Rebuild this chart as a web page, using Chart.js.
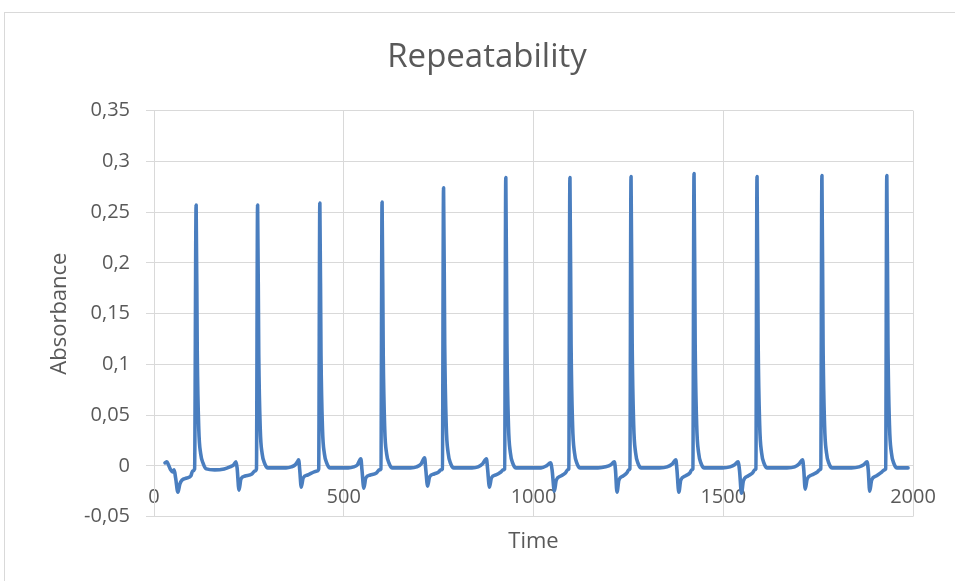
<!DOCTYPE html>
<html>
<head>
<meta charset="utf-8">
<title>Repeatability</title>
<script src="https://cdn.jsdelivr.net/npm/chart.js@4.4.0/dist/chart.umd.min.js"></script>
<style>
  html, body { margin: 0; padding: 0; background: #fff; overflow: hidden; }
  /* thin frame round the chart object */
  .frame { position: absolute; left: 4px; top: 12px; width: 1000px; height: 700px; border: 1px solid #d9d9d9; }
  #repeat-chart { position: absolute; left: 0; top: 0; }
</style>
</head>
<body>
<div class="frame"></div>
<canvas id="repeat-chart" width="974" height="581"></canvas>
<script>
// measured signal: time and absorbance, one row per injection peak
const time = [
  29, 34, 38, 44, 49, 53, 57, 63, 68, 74, 86, 97, 102, 107, 111,
  114, 118, 123, 130, 138, 160, 185, 200, 210, 216, 219, 224, 229, 240, 258, 266, 270, 273,
  276, 280, 285, 292, 300, 322, 348, 362, 372, 378, 381, 384, 388, 393, 405, 422, 430, 434, 437,
  440, 444, 449, 456, 464, 486, 512, 526, 536, 545, 548, 553, 558, 570, 586, 594, 598, 601,
  604, 608, 613, 620, 628, 650, 676, 692, 704, 713, 716, 721, 726, 738, 750, 756, 760, 763,
  766, 770, 775, 782, 790, 812, 838, 854, 866, 876, 879, 884, 889, 901, 914, 920, 924, 927,
  930, 934, 939, 946, 954, 976, 1000, 1020, 1034, 1045, 1049, 1055, 1060, 1072, 1084, 1090, 1093, 1096,
  1099, 1103, 1108, 1115, 1123, 1145, 1170, 1190, 1204, 1213, 1216, 1220, 1225, 1236, 1246, 1251, 1254, 1257,
  1260, 1264, 1269, 1276, 1284, 1306, 1332, 1352, 1366, 1375, 1378, 1383, 1388, 1400, 1412, 1417, 1420, 1423,
  1426, 1430, 1435, 1442, 1450, 1472, 1498, 1518, 1530, 1539, 1543, 1548, 1553, 1565, 1577, 1583, 1586, 1589,
  1592, 1596, 1601, 1608, 1616, 1640, 1668, 1688, 1700, 1709, 1712, 1716, 1721, 1733, 1748, 1754, 1757, 1760,
  1763, 1767, 1772, 1779, 1787, 1810, 1838, 1858, 1870, 1879, 1882, 1886, 1891, 1903, 1918, 1925, 1928, 1931,
  1934, 1938, 1943, 1950, 1958, 1972, 1987
];

const absorbance = [
  0.003, 0.004, 0.001, -0.004, -0.006, -0.004, -0.012, -0.026, -0.018, -0.014, -0.012, -0.010, -0.005, -0.003, 0.257,
  0.11, 0.036, 0.012, 0.002, -0.003, -0.004, -0.003, -0.001, 0.001, 0.004, -0.002, -0.024, -0.013, -0.010, -0.008, -0.005, -0.003, 0.257,
  0.11, 0.036, 0.012, 0.002, -0.002, -0.002, -0.002, -0.001, 0.001, 0.004, 0.006, -0.004, -0.021, -0.012, -0.009, -0.006, -0.005, -0.003, 0.259,
  0.11, 0.036, 0.012, 0.002, -0.002, -0.002, -0.002, -0.001, 0.001, 0.007, -0.004, -0.022, -0.012, -0.009, -0.007, -0.004, -0.003, 0.260,
  0.11, 0.036, 0.012, 0.002, -0.002, -0.002, -0.002, -0.001, 0.002, 0.008, -0.003, -0.020, -0.011, -0.008, -0.006, -0.004, -0.003, 0.274,
  0.12, 0.04, 0.013, 0.002, -0.002, -0.002, -0.002, -0.001, 0.002, 0.007, -0.003, -0.021, -0.012, -0.009, -0.006, -0.004, -0.003, 0.284,
  0.12, 0.04, 0.013, 0.002, -0.002, -0.002, -0.002, -0.002, 0.000, 0.003, -0.004, -0.025, -0.014, -0.010, -0.007, -0.004, -0.003, 0.284,
  0.12, 0.04, 0.013, 0.002, -0.002, -0.002, -0.002, -0.001, 0.001, 0.004, -0.004, -0.026, -0.014, -0.010, -0.007, -0.004, -0.003, 0.285,
  0.12, 0.04, 0.013, 0.002, -0.002, -0.002, -0.002, -0.001, 0.002, 0.006, -0.004, -0.026, -0.014, -0.010, -0.007, -0.004, -0.003, 0.288,
  0.12, 0.04, 0.013, 0.002, -0.002, -0.002, -0.002, -0.001, 0.001, 0.004, -0.005, -0.027, -0.015, -0.010, -0.007, -0.004, -0.003, 0.285,
  0.12, 0.04, 0.013, 0.002, -0.002, -0.002, -0.002, -0.001, 0.002, 0.006, -0.003, -0.023, -0.013, -0.009, -0.006, -0.004, -0.003, 0.286,
  0.12, 0.04, 0.013, 0.002, -0.002, -0.002, -0.002, -0.001, 0.001, 0.004, -0.004, -0.025, -0.014, -0.010, -0.006, -0.004, -0.003, 0.286,
  0.12, 0.04, 0.013, 0.002, -0.002, -0.002, -0.002
];

// axis ticks (labels use a decimal comma)
const xTickValues = [0, 500, 1000, 1500, 2000];
const xTickLabels = ['0', '500', '1000', '1500', '2000'];
const yTickValues = [-0.05, 0, 0.05, 0.1, 0.15, 0.2, 0.25, 0.3, 0.35];
const yTickLabels = ['-0,05', '0', '0,05', '0,1', '0,15', '0,2', '0,25', '0,3', '0,35'];

const textColor = '#595959';
const gridColor = '#d9d9d9';
const fontFamily = "'Open Sans', sans-serif";

const points = time.map((t, i) => ({ x: t, y: absorbance[i] }));

const ctx = document.getElementById('repeat-chart').getContext('2d');

new Chart(ctx, {
  type: 'scatter',
  data: {
    datasets: [{
      label: 'Absorbance',
      data: points,
      showLine: true,
      borderColor: '#4a7ebf',
      borderWidth: 3.6,
      pointRadius: 0,
      cubicInterpolationMode: 'monotone',
      borderJoinStyle: 'round',
      borderCapStyle: 'round'
    }]
  },
  options: {
    responsive: false,
    animation: false,
    layout: { padding: 0 },
    plugins: {
      legend: { display: false },
      tooltip: { enabled: false },
      title: {
        display: true,
        text: 'Repeatability',
        color: textColor,
        font: { family: fontFamily, size: 33, weight: 'normal' },
        padding: { top: 38, bottom: 33 }
      },
      subtitle: {
        display: true,
        position: 'bottom',
        fullSize: false,
        text: 'Time',
        color: textColor,
        font: { family: fontFamily, size: 22, weight: 'normal' },
        padding: { top: 12, bottom: 26 }
      }
    },
    scales: {
      x: {
        type: 'linear',
        position: { y: 0 },   // labels sit on the zero line
        min: 0,
        max: 2000,
        afterBuildTicks: function (scale) {
          scale.ticks = xTickValues.map(v => ({ value: v }));
        },
        ticks: {
          color: textColor,
          font: { family: fontFamily, size: 20 },
          padding: 19,
          maxRotation: 0,
          callback: (v, i) => xTickLabels[i]
        },
        grid: { color: gridColor, drawTicks: false },
        border: { color: gridColor }
      },
      y: {
        min: -0.05,
        max: 0.35,
        afterBuildTicks: function (scale) {
          scale.ticks = yTickValues.map(v => ({ value: v }));
        },
        afterFit: function (scale) {
          scale.width = 154;
        },
        ticks: {
          color: textColor,
          font: { family: fontFamily, size: 20 },
          padding: 16,
          callback: (v, i) => yTickLabels[i]
        },
        grid: { color: gridColor, tickLength: 8 },
        border: { color: gridColor },
        title: {
          display: true,
          text: 'Absorbance',
          color: textColor,
          font: { family: fontFamily, size: 22 },
          padding: { top: 47 }
        }
      },
      // empty right-hand strip, keeps the plot narrower than the frame
      spacer: {
        type: 'linear',
        position: 'right',
        grid: { display: false },
        border: { display: false },
        ticks: { display: false },
        afterFit: function (scale) {
          scale.width = 61;
        }
      }
    }
  }
});
</script>
</body>
</html>
